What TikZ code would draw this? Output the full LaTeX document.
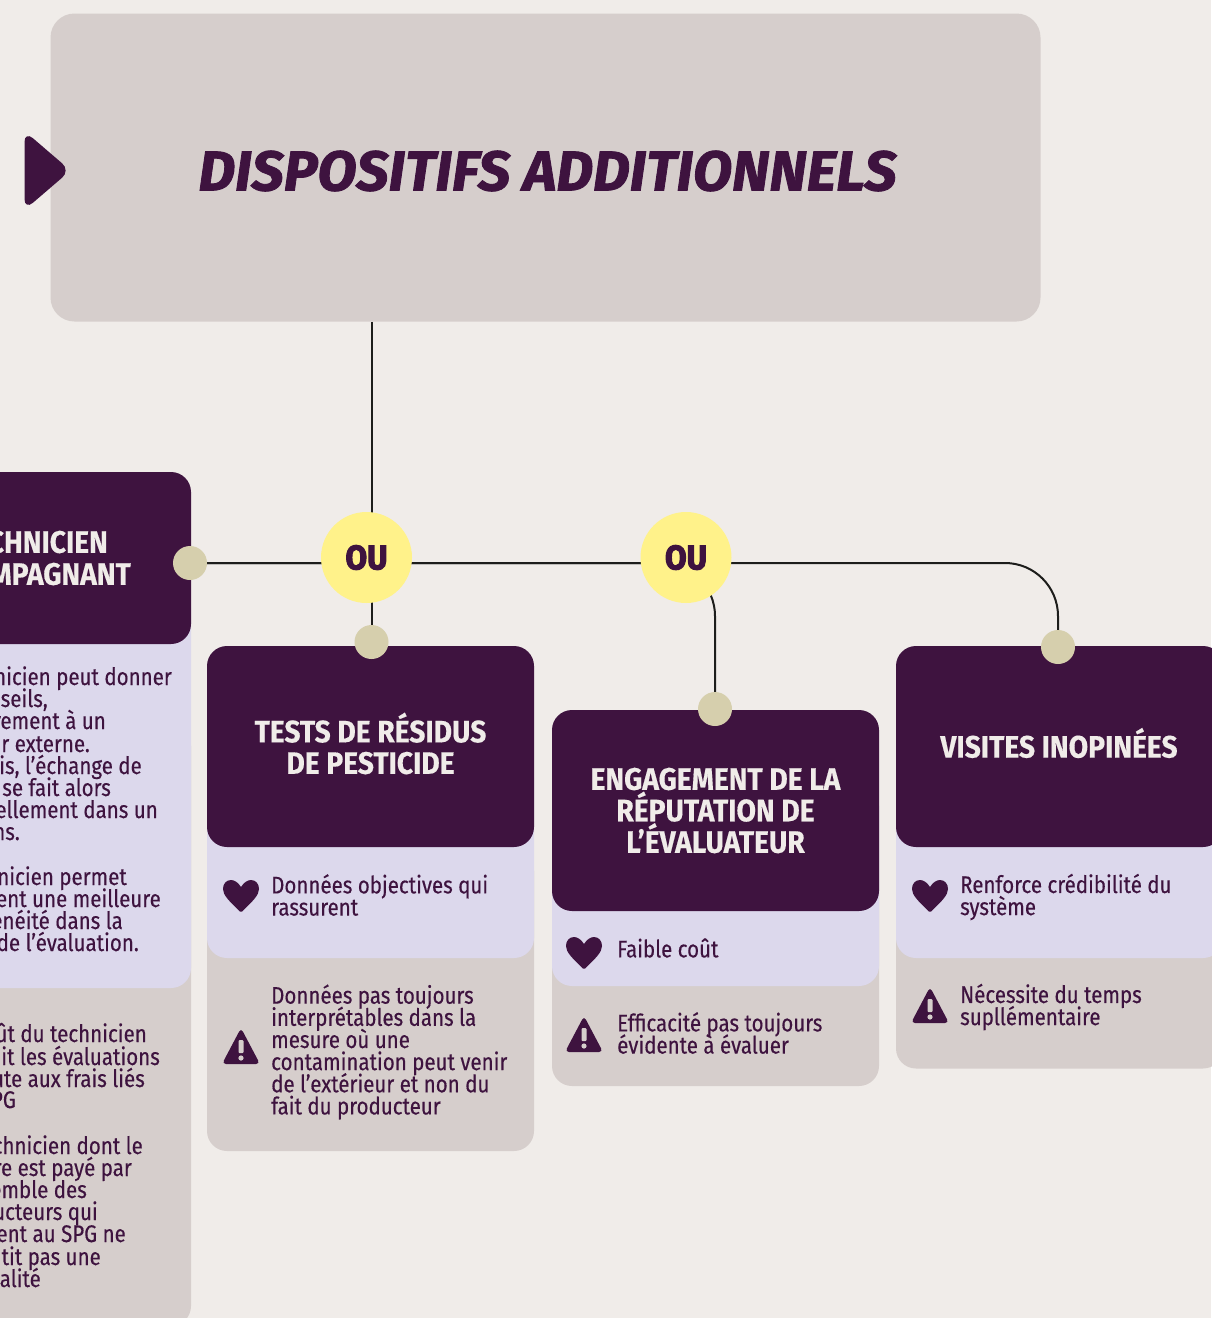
\documentclass[tikz,border=0pt]{standalone}
\usepackage{fontspec}
\setmainfont{Fira Sans}[FakeStretch=0.855,FakeBold=0.35]
\newfontfamily\mytitlefont{Fira Sans}[FakeStretch=1.02,FakeBold=1.5]
\newfontfamily\myheadfont{Fira Sans}[FakeStretch=0.91,FakeBold=0.4]
\newfontfamily\myoufont{Fira Sans}[FakeStretch=0.92,FakeBold=3]
\usetikzlibrary{backgrounds}
\definecolor{mybg}{HTML}{F0ECE9}
\definecolor{myplum}{HTML}{3E133F}
\definecolor{mylav}{HTML}{DCD8EC}
\definecolor{mytaupe}{HTML}{D6CECC}
\definecolor{mysand}{HTML}{D6CFAD}
\definecolor{myyellow}{HTML}{FFF28A}
\definecolor{myline}{HTML}{1D1D1B}
\newcommand{\mytight}{\setlength{\lineskiplimit}{-30pt}}

\begin{document}
\begin{tikzpicture}[x=1pt,y=-1pt]

\tikzstyle{mybox}=[
  rectangle,
  rounded corners=20pt,
  minimum width=327pt,
  inner sep=0pt]

\tikzstyle{mydark}=[mybox, fill=myplum]

\tikzstyle{mylight}=[mybox, fill=mylav]

\tikzstyle{mygrey}=[mybox, fill=mytaupe]

\tikzstyle{myhead}=[
  text=mybg,
  inner sep=0pt,
  align=center,
  font=\fontsize{31}{31.5}\myheadfont\bfseries\mytight]

\tikzstyle{mydot}=[circle, fill=mysand, minimum size=34pt, inner sep=0pt]

\tikzstyle{myou}=[
  circle,
  fill=myyellow,
  text=myplum,
  minimum size=91pt,
  inner sep=0pt,
  font=\fontsize{34}{34}\myoufont\bfseries]

\tikzstyle{mytext}=[
  text=myplum,
  inner sep=0pt,
  align=left,
  font=\fontsize{24}{22.15}\selectfont\mytight]

\tikzstyle{mylink}=[line width=2pt, draw=myline, rounded corners=53pt]

\tikzset{
  myheart/.pic={
    \fill[myplum] (0,-9) .. controls (-3,-14) and (-7,-16) .. (-10,-16)
      .. controls (-15,-16) and (-18,-12) .. (-18,-7)
      .. controls (-18,-1) and (-12,5) .. (-1,15.5)
      -- (1,15.5) .. controls (12,5) and (18,-1) .. (18,-7)
      .. controls (18,-12) and (15,-16) .. (10,-16)
      .. controls (7,-16) and (3,-14) .. (0,-9) -- cycle;
  },
  mywarn/.pic={
    \fill[myplum, rounded corners=4pt] (0,-20) -- (19,16) -- (-19,16) -- cycle;
    \fill[#1, rounded corners=1pt] (-2.5,-8) rectangle (2.5,5);
    \fill[#1] (0,10) circle (2.6);
  }
}

% page
\begin{pgfonlayer}{background}
  \fill[mybg] (0,0) rectangle (1211,1318);
\end{pgfonlayer}
\useasboundingbox (0,0) rectangle (1211,1318);

% define points
\path
  (545.5,167.5) coordinate(R)
  (371.5,642) coordinate(P1)
  (715,709) coordinate(P2)
  (1058,647) coordinate(P3)
  (190,563) coordinate(P0)
  ;

% title
\node[mybox, fill=mytaupe, rounded corners=24pt, minimum width=990pt, minimum height=308pt] (title) at (R) {};
\node[text=myplum, inner sep=0pt, font=\fontsize{56}{56}\mytitlefont\bfseries\itshape]
  (titletext) at (547.5,171) {DISPOSITIFS ADDITIONNELS};
\fill[myplum, rounded corners=11pt] (24.5,131) -- (70.5,170.5) -- (24.5,210) -- cycle;

% left column
\node[mygrey, minimum height=600pt] (G0) at (27.5,1026) {};
\node[mylight, minimum height=400pt] (L0) at (27.5,788) {};
\node[mydark, minimum height=172pt] (T0) at (27.5,558) {};
\node[myhead, anchor=east] (T0a) at (108,542) {CHNICIEN};
\node[myhead, anchor=east] (T0b) at (131,574) {MPAGNANT};

\foreach \x/\y/\t in {
  172/685/{nicien peut donner},
  48/707/{seils,},
  106/729/{rement à un},
  90/752/{r externe.},
  142/774/{ois, l’échange de},
  111/796/{se fait alors},
  158/818/{ellement dans un},
  20/840/{ns.},
  127/885/{nicien permet},
  161/907/{ent une meilleure},
  123/929/{énéité dans la},
  139/951/{de l’évaluation.},
  147/1042/{ût du technicien},
  160/1065/{nit les évaluations},
  145/1087/{ute aux frais liés},
  16/1108/{PG},
  143/1154/{chnicien dont le},
  132/1176/{re est payé par},
  87/1198/{emble des},
  98/1220/{ucteurs qui},
  126/1242/{ent au SPG ne},
  101/1265/{tit pas une},
  41/1287/{alité}}
  \node[mytext, anchor=base east] (F\y) at (\x,\y) {\t};

% first column
\node[mygrey, minimum height=300pt] (G1) at (370.5,1001) {};
\node[mylight, minimum height=200pt] (L1) at (370.5,858) {};
\node[mydark, minimum height=201pt] (T1) at (370.5,746.5) {};
\node[myhead] (H1) at (370.5,743.5) {TESTS DE RÉSIDUS\\DE PESTICIDE};
\pic at (241,896) {myheart};
\node[mytext, anchor=west] (A1) at (271,895) {Données objectives qui\\rassurent};
\pic at (241,1048) {mywarn=mytaupe};
\node[mytext, anchor=west] (B1) at (271,1052) {Données pas toujours\\interprétables dans la\\mesure où une\\contamination peut venir\\de l’extérieur et non du\\fait du producteur};

% second column
\node[mygrey, minimum height=300pt] (G2) at (715.5,936) {};
\node[mylight, minimum height=200pt] (L2) at (715.5,886) {};
\node[mydark, minimum height=201pt] (T2) at (715.5,810.5) {};
\node[myhead] (H2) at (715.5,810.5) {ENGAGEMENT DE LA\\RÉPUTATION DE\\L’ÉVALUATEUR};
\pic at (584,953) {myheart};
\node[mytext, anchor=west] (A2) at (617,948) {Faible coût};
\pic at (584,1036) {mywarn=mytaupe};
\node[mytext, anchor=west] (B2) at (617,1033) {Efficacité pas toujours\\évidente à évaluer};

% third column
\node[mygrey, minimum height=300pt] (G3) at (1059.5,918.5) {};
\node[mylight, minimum height=200pt] (L3) at (1059.5,858) {};
\node[mydark, minimum height=201pt] (T3) at (1059.5,746.5) {};
\node[myhead] (H3) at (1059,743) {VISITES INOPINÉES};
\pic at (930,896) {myheart};
\node[mytext, anchor=west] (A3) at (960,897) {Renforce crédibilité du\\système};
\pic at (930,1007) {mywarn=mytaupe};
\node[mytext, anchor=west] (B3) at (960,1007) {Nécessite du temps\\supllémentaire};

% dots and or
\node[mydot] (D0) at (P0) {};
\node[mydot] (D1) at (P1) {};
\node[mydot] (D2) at (P2) {};
\node[mydot] (D3) at (P3) {};
\node[myou] (O1) at (366.5,557.5) {OU};
\node[myou] (O2) at (686,557.5) {OU};

% draw lines
\begin{pgfonlayer}{background}
  \draw[mylink] (title.south -| D1) -- (D1);
  \draw[mylink] (D0) -| (D2);
  \draw[mylink] (D0) -| (D3);
\end{pgfonlayer}

\end{tikzpicture}
\end{document}
